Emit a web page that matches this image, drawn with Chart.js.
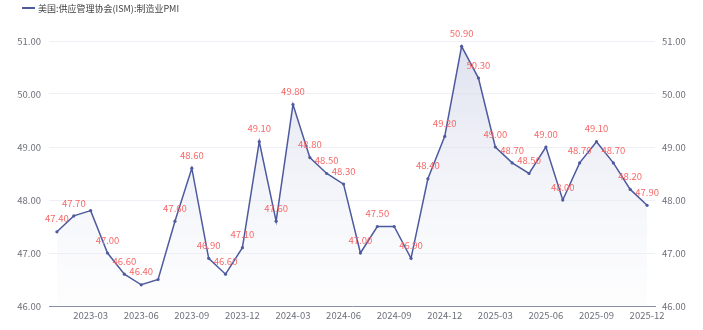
<!DOCTYPE html>
<html>
<head>
<meta charset="utf-8">
<script src="https://cdn.jsdelivr.net/npm/chart.js@4"></script>
<style>
html,body{margin:0;padding:0;background:#fff;}
#wrap{width:703px;height:330px;position:relative;}
</style>
</head>
<body>
<div id="wrap"><canvas id="c" width="703" height="330"></canvas></div>
<script>
const seriesName = "美国:供应管理协会(ISM):制造业PMI";
const months = [
  "2023-01","2023-02","2023-03","2023-04","2023-05","2023-06","2023-07","2023-08","2023-09","2023-10","2023-11","2023-12",
  "2024-01","2024-02","2024-03","2024-04","2024-05","2024-06","2024-07","2024-08","2024-09","2024-10","2024-11","2024-12",
  "2025-01","2025-02","2025-03","2025-04","2025-05","2025-06","2025-07","2025-08","2025-09","2025-10","2025-11","2025-12"
];
const pmiValues = [
  47.4,47.7,47.8,47.0,46.6,46.4,46.5,47.6,48.6,46.9,46.6,47.1,
  49.1,47.6,49.8,48.8,48.5,48.3,47.0,47.5,47.5,46.9,48.4,49.2,
  50.9,50.3,49.0,48.7,48.5,49.0,48.0,48.7,49.1,48.7,48.2,47.9
];
const xTickLabels = ["2023-03","2023-06","2023-09","2023-12","2024-03","2024-06","2024-09","2024-12","2025-03","2025-06","2025-09","2025-12"];
const yTicks = [46,47,48,49,50,51];

const FONT = '"Noto Sans CJK SC", "Noto Sans", sans-serif';
const LINE = '#4e5a9e';
const LABEL = '#f76868';
const AXIS_TXT = '#6e7079';

const points = months.map((m,i)=>({x:i,y:pmiValues[i]}));
const xTickIdx = xTickLabels.map(l=>months.indexOf(l));

const labelPlugin = {
  id:'labels',
  afterDatasetsDraw(chart){
    const ctx = chart.ctx;
    const meta = chart.getDatasetMeta(0);
    ctx.save();
    ctx.font = '9.5px ' + FONT;
    ctx.fillStyle = LABEL;
    ctx.textAlign = 'center';
    ctx.textBaseline = 'middle';
    const shown = [];
    meta.data.forEach((pt,i)=>{
      const txt = pmiValues[i].toFixed(2);
      const w = ctx.measureText(txt).width;
      const cx = pt.x, cy = pt.y - 13;
      const box = {l:cx-w/2, r:cx+w/2, t:cy-5, b:cy+5};
      const hit = shown.some(s=>!(box.r<=s.l||box.l>=s.r||box.b<=s.t||box.t>=s.b));
      if(hit) return;
      shown.push(box);
      ctx.fillText(txt, cx, cy);
    });
    ctx.restore();
  }
};

const legendPlugin = {
  id:'legendCustom',
  afterDraw(chart){
    const ctx = chart.ctx;
    ctx.save();
    ctx.strokeStyle = LINE;
    ctx.lineWidth = 2;
    ctx.beginPath();
    ctx.moveTo(22,8); ctx.lineTo(35,8);
    ctx.stroke();
    ctx.font = '9px ' + FONT;
    ctx.fillStyle = '#444';
    ctx.textBaseline = 'middle';
    ctx.textAlign = 'left';
    ctx.fillText(seriesName, 38, 8.5);
    ctx.restore();
  }
};

const ctx = document.getElementById('c').getContext('2d');
new Chart(ctx,{
  type:'line',
  data:{
    datasets:[{
      label:seriesName,
      data:points,
      borderColor:LINE,
      borderWidth:1.5,
      pointRadius:1.6,
      pointBackgroundColor:LINE,
      pointBorderWidth:0,
      tension:0,
      fill:'origin',
      backgroundColor(c){
        const a = c.chart.chartArea;
        if(!a) return 'rgba(220,224,238,0.5)';
        const g = c.chart.ctx.createLinearGradient(0,a.top,0,a.bottom);
        g.addColorStop(0,'rgba(208,212,232,0.7)');
        g.addColorStop(1,'rgba(240,242,248,0.15)');
        return g;
      }
    }]
  },
  options:{
    responsive:false,
    animation:false,
    layout:{padding:{top:41,left:0,right:0,bottom:0}},
    plugins:{legend:{display:false},tooltip:{enabled:false}},
    scales:{
      x:{
        type:'linear',
        min:-0.47,max:35.47,
        afterBuildTicks(s){ s.ticks = xTickIdx.map(v=>({value:v})); },
        afterFit(s){ s.height = 24; },
        ticks:{
          autoSkip:false,maxRotation:0,padding:4,
          color:AXIS_TXT,font:{family:FONT,size:9.5},
          callback(v){ const i = xTickIdx.indexOf(v); return i>=0 ? xTickLabels[i] : ''; }
        },
        grid:{display:false,drawTicks:false},
        border:{display:true,color:'#8a90aa',width:1}
      },
      y:{
        position:'left',
        min:46,max:51,
        afterBuildTicks(s){ s.ticks = yTicks.map(v=>({value:v})); },
        afterFit(s){ s.width = 49; },
        ticks:{padding:8,color:AXIS_TXT,font:{family:FONT,size:9.5},callback:v=>v.toFixed(2)},
        grid:{color:'#eef0f6',drawTicks:false,lineWidth:1},
        border:{display:false}
      },
      y2:{
        position:'right',
        min:46,max:51,
        afterBuildTicks(s){ s.ticks = yTicks.map(v=>({value:v})); },
        afterFit(s){ s.width = 48; },
        ticks:{padding:7,color:AXIS_TXT,font:{family:FONT,size:9.5},callback:v=>v.toFixed(2)},
        grid:{display:false,drawTicks:false},
        border:{display:false}
      }
    }
  },
  plugins:[labelPlugin,legendPlugin]
});
</script>
</body>
</html>
